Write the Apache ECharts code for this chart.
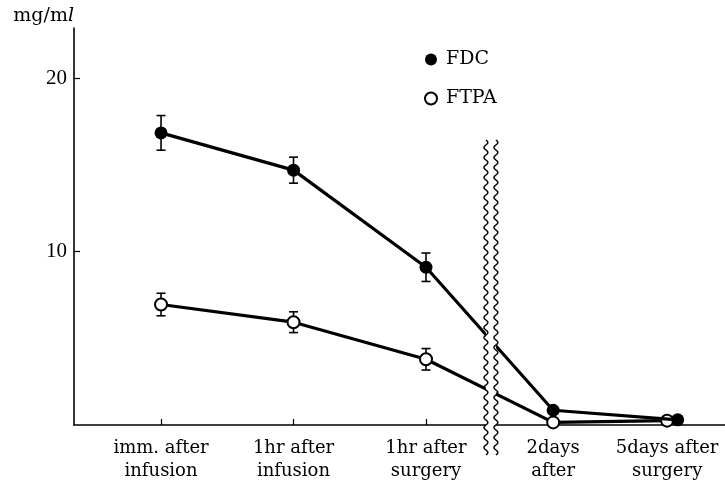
<!DOCTYPE html>
<html><head><meta charset="utf-8">
<script src="https://cdn.jsdelivr.net/npm/echarts@6/dist/echarts.min.js"></script>
<style>html,body{margin:0;padding:0;background:#fff}#c{width:725px;height:483px}</style>
</head><body><div id="c"></div>
<script>
// ---- data ----
const categories = ['imm. after\ninfusion', '1hr after\ninfusion', '1hr after\nsurgery', '2days\nafter', '5days after\nsurgery'];
const categoryPos = [1, 2, 3, 3.96, 4.82];
const fdcPos = [1, 2, 3, 3.96, 4.9];
const ftpaPos = [1, 2, 3, 3.96, 4.82];
const fdcMean = [16.85, 14.7, 9.1, 0.85, 0.3];
const fdcSD = [1.0, 0.75, 0.82, null, null];
const ftpaMean = [6.95, 5.93, 3.79, 0.15, 0.25];
const ftpaSD = [0.65, 0.6, 0.62, null, null];
const yTicks = [10, 20];
const tickedCategories = [1, 2, 3];
const breakAt = 3.49;

const serif = 'DejaVu Serif';
const chart = echarts.init(document.getElementById('c'));

function errData(pos, mean, sd) {
  return pos.map((x, i) => sd[i] == null ? null : [x, mean[i] - sd[i], mean[i] + sd[i]]).filter(Boolean);
}
function errRender(params, api) {
  const x = api.value(0), lo = api.value(1), hi = api.value(2);
  const t = api.coord([x, hi]), b = api.coord([x, lo]);
  const w = 4.5, st = {stroke: '#000', lineWidth: 1.6};
  return {type: 'group', children: [
    {type: 'line', shape: {x1: t[0], y1: t[1], x2: b[0], y2: b[1]}, style: st},
    {type: 'line', shape: {x1: t[0] - w, y1: t[1], x2: t[0] + w, y2: t[1]}, style: st},
    {type: 'line', shape: {x1: b[0] - w, y1: b[1], x2: b[0] + w, y2: b[1]}, style: st}
  ]};
}

chart.setOption({
  animation: false,
  backgroundColor: '#fff',
  grid: {left: 74, right: 0, top: 28, bottom: 51},
  legend: {
    orient: 'vertical', left: 419, top: 45, icon: 'circle',
    itemWidth: 12, itemHeight: 12, itemGap: 20,
    data: ['FDC', 'FTPA'],
    textStyle: {fontFamily: serif, fontSize: 19, color: '#000', padding: [0, 0, 0, 4]}
  },
  xAxis: {
    type: 'value', min: 0.343, max: 5.257,
    axisLine: {lineStyle: {color: '#000', width: 1.6}},
    splitLine: {show: false},
    axisTick: {customValues: tickedCategories, inside: true, length: 6, lineStyle: {color: '#000', width: 1.2}},
    axisLabel: {
      customValues: categoryPos, margin: 12, color: '#000',
      fontFamily: serif, fontSize: 18, lineHeight: 23,
      formatter: v => {
        let best = 0;
        categoryPos.forEach((p, i) => { if (Math.abs(p - v) < Math.abs(categoryPos[best] - v)) best = i; });
        return categories[best];
      }
    }
  },
  yAxis: {
    type: 'value', min: 0, max: 22.9,
    name: '{a|mg/m}{b|l}', nameLocation: 'end', nameGap: 2,
    nameTextStyle: {align: 'right', verticalAlign: 'bottom',
      rich: {a: {fontFamily: serif, fontSize: 19, color: '#000'},
             b: {fontFamily: serif, fontSize: 19, fontStyle: 'italic', color: '#000'}}},
    axisLine: {show: true, lineStyle: {color: '#000', width: 1.6}},
    splitLine: {show: false},
    axisTick: {customValues: yTicks, inside: true, length: 6, lineStyle: {color: '#000', width: 1.2}},
    axisLabel: {customValues: yTicks, margin: 7, color: '#000', fontFamily: 'Liberation Serif', fontSize: 21}
  },
  series: [
    {type: 'custom', name: 'FDC err', renderItem: errRender, data: errData(fdcPos, fdcMean, fdcSD), z: 1, silent: true},
    {type: 'custom', name: 'FTPA err', renderItem: errRender, data: errData(ftpaPos, ftpaMean, ftpaSD), z: 1, silent: true},
    {type: 'line', name: 'FDC', z: 3, data: fdcPos.map((x, i) => [x, fdcMean[i]]),
      symbol: 'circle', symbolSize: 13, showAllSymbol: true,
      lineStyle: {color: '#000', width: 3.2}, itemStyle: {color: '#000'}},
    {type: 'line', name: 'FTPA', z: 2, data: ftpaPos.map((x, i) => [x, ftpaMean[i]]),
      symbol: 'circle', symbolSize: 12, showAllSymbol: true,
      lineStyle: {color: '#000', width: 3.2}, itemStyle: {color: '#fff', borderColor: '#000', borderWidth: 2}}
  ]
});

// axis break marks
const cx = chart.convertToPixel({xAxisIndex: 0}, breakAt);
const yTop = 140, yBot = 455;
function wave(x0) {
  const pts = [];
  for (let y = yTop; y <= yBot; y += 1) pts.push([x0 + 2 * Math.sin(2 * Math.PI * (y - yTop) / 10), y]);
  return pts;
}
chart.setOption({graphic: [
  {type: 'rect', z: 100, shape: {x: cx - 5, y: yTop, width: 10, height: yBot - yTop}, style: {fill: '#fff'}},
  {type: 'polyline', z: 101, shape: {points: wave(cx - 5)}, style: {stroke: '#000', lineWidth: 1.4, fill: null}},
  {type: 'polyline', z: 101, shape: {points: wave(cx + 5)}, style: {stroke: '#000', lineWidth: 1.4, fill: null}}
]});
</script>
</body></html>
